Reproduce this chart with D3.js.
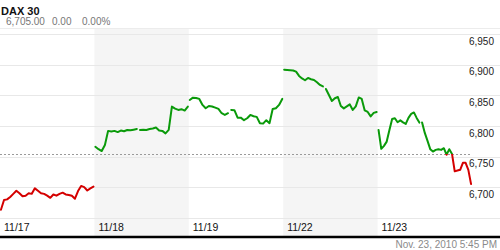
<!DOCTYPE html>
<html><head><meta charset="utf-8">
<script src="https://cdn.jsdelivr.net/npm/d3@7"></script>
<style>html,body{margin:0;padding:0;background:#fff;}svg{display:block;}</style>
</head><body>
<svg id="chart" width="500" height="250"></svg>
<script>
// ---- data ----
const title = "DAX 30";
const quoteText = ["6,705.00", "0.00", "0.00%"];
const stampText = "Nov. 23, 2010 5:45 PM";
const dayLabels = ["11/17", "11/18", "11/19", "11/22", "11/23"];
const yTicks = [6700, 6750, 6800, 6850, 6900, 6950];
const yGrid = [6650, 6700, 6750, 6800, 6850, 6900, 6950];
const prevClose = 6754;
// intraday values per day; null = break in the line
const day1 = [6663, 6679, 6680, 6684, 6689, 6694, 6690, 6685, 6686, 6690, 6689, 6698, 6694, 6690, 6689, 6686, 6682.5, 6688, 6686, 6689, 6691, 6688, 6687, 6686, 6681, 6693.5, 6702, 6700, 6694.5, 6698, 6701];
const day2 = [6766, 6762, 6759, 6769, 6792, 6791, 6792, 6790, 6792.5, 6791.5, 6793.5, 6793, 6794, 6795, null, 6793.6, 6794, 6793.6, 6795, 6796, 6797.4, 6792.5, 6792, 6788, 6793.6, 6831.7, 6828.4, 6826.3, 6827.5, 6825.2, 6831.7];
const day3 = [6842.6, 6846.4, 6845.9, 6844.3, 6834.5, 6829.1, 6832.8, 6832, 6830.1, 6827.9, 6820.9, 6818.2, 6820.9, null, 6826.3, 6825.8, 6813.7, 6813.7, 6809.5, 6812.7, 6818.1, 6816, 6814.9, 6804.6, 6803.9, 6809.5, 6804.6, 6827.9, 6829.1, 6834.5, 6844.3];
const day4 = [6892.2, 6891.7, 6891.2, 6890.8, 6888.9, 6881.9, 6877.8, 6874.8, 6878.6, 6876.5, 6875.3, 6871.6, 6867.2, 6864.7, null, 6860.6, 6850.8, 6841, 6845.4, 6847.5, 6832.8, 6828.8, 6832, 6835.3, 6826.3, 6832, 6846.7, 6844.3, 6825.5, 6823, 6815.7, 6821.4, 6823];
const day5 = [6793.6, 6762.6, 6767.5, 6774.5, 6793.6, 6811.6, 6812.7, 6806.2, 6809.2, 6805.9, 6803.4, 6813.2, 6819.8, 6822.2, 6813.2, 6805.6, null, 6805.6, 6788.7, 6775.7, 6762.1, 6758.2, 6760.9, 6762.1, 6760.9, 6763.7, 6753, 6762.1, 6754.4, 6725.8, 6727.1, 6728.3, 6739.7, 6739.7, 6728.3, 6705];
const days = [day1, day2, day3, day4, day5];
const shadedDays = [1, 3];

// ---- layout ----
const W = 500, H = 250;
const plotTop = 28, axisY = 237;
const svg = d3.select("#chart");
const x = d3.scaleLinear().domain([0, 5]).range([0, 472]);
const y = d3.scaleLinear().domain([6650, 6950]).range([217.7, 34.3]);
const snap = v => Math.round(v) + 0.5;
const font = "Liberation Sans, Arial, sans-serif";

// shaded day bands
svg.selectAll("rect.band").data(shadedDays).join("rect")
  .attr("x", d => x(d)).attr("width", d => x(d + 1) - x(d))
  .attr("y", plotTop).attr("height", axisY - plotTop)
  .attr("fill", "#f5f5f5");

// top border line
svg.append("line").attr("x1", 0).attr("x2", W)
  .attr("y1", plotTop + 0.5).attr("y2", plotTop + 0.5)
  .attr("stroke", "#ececec").attr("stroke-width", 1);

// grid lines
svg.selectAll("line.grid").data(yGrid).join("line")
  .attr("x1", 0).attr("x2", W)
  .attr("y1", d => snap(y(d))).attr("y2", d => snap(y(d)))
  .attr("stroke", "#e8e8e8").attr("stroke-width", 1);

// y labels
svg.selectAll("text.ylab").data(yTicks).join("text")
  .attr("x", 494).attr("y", d => y(d) + 10.5)
  .attr("text-anchor", "end")
  .attr("font-family", font).attr("font-size", 10).attr("fill", "#222")
  .text(d => d3.format(",")(d));

// baseline (previous close) dotted
svg.append("line").attr("x1", 0).attr("x2", 470)
  .attr("y1", snap(y(prevClose))).attr("y2", snap(y(prevClose)))
  .attr("stroke", "#9a9a9a").attr("stroke-width", 1).attr("stroke-dasharray", "2,2");

// clips for colour split
const defs = svg.append("defs");
const yb = y(prevClose);
defs.append("clipPath").attr("id", "above").append("rect")
  .attr("x", 0).attr("y", 0).attr("width", W).attr("height", yb);
defs.append("clipPath").attr("id", "below").append("rect")
  .attr("x", 0).attr("y", yb).attr("width", W).attr("height", H - yb);

// build segments
const segments = [];
days.forEach((vals, d) => {
  const n = vals.filter(v => v !== null).length;
  let idx = 0, cur = [];
  vals.forEach(v => {
    if (v === null) { if (cur.length) segments.push(cur); cur = []; return; }
    cur.push({ t: d + 0.01 + 0.98 * idx / (n - 1), v });
    idx++;
  });
  if (cur.length) segments.push(cur);
});
const line = d3.line().x(p => x(p.t)).y(p => y(p.v));
[["above", "#0a9a0a"], ["below", "#d40000"]].forEach(([clip, col]) => {
  svg.append("g").attr("clip-path", `url(#${clip})`)
    .selectAll("path").data(segments).join("path")
    .attr("d", line).attr("fill", "none").attr("stroke", col)
    .attr("stroke-width", 2).attr("stroke-linejoin", "round").attr("stroke-linecap", "round");
});

// x labels
svg.selectAll("text.xlab").data(dayLabels).join("text")
  .attr("x", (d, i) => x(i) + 4).attr("y", 231)
  .attr("font-family", font).attr("font-size", 10.5).attr("fill", "#111")
  .text(d => d);

// axis line
svg.append("line").attr("x1", 0).attr("x2", W)
  .attr("y1", axisY).attr("y2", axisY)
  .attr("stroke", "#000").attr("stroke-width", 2.3);

// timestamp
svg.append("text").attr("x", 497).attr("y", 248).attr("text-anchor", "end")
  .attr("font-family", font).attr("font-size", 10).attr("fill", "#8a8a8a")
  .text(stampText);

// header
svg.append("text").attr("x", 1).attr("y", 15)
  .attr("font-family", font).attr("font-size", 11).attr("font-weight", "bold").attr("fill", "#111")
  .text(title);
const qx = [6, 52, 82];
svg.selectAll("text.quote").data(quoteText).join("text")
  .attr("x", (d, i) => qx[i]).attr("y", 25)
  .attr("font-family", font).attr("font-size", 10).attr("fill", "#777")
  .text(d => d);
</script>
</body></html>
